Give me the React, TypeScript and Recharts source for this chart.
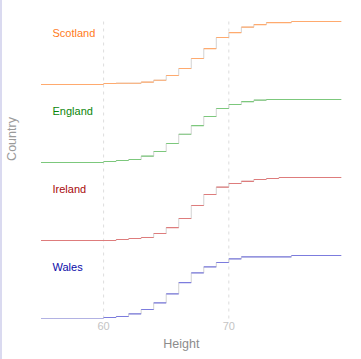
import React from 'react';
import { LineChart, Line, XAxis, YAxis, ReferenceLine } from 'recharts';

const HEIGHTS = [55, 56, 57, 58, 59, 60, 61, 62, 63, 64, 65, 66, 67, 68, 69, 70, 71, 72, 73, 74, 75, 76, 77, 78, 79];
const COUNTRIES = ['Scotland', 'England', 'Ireland', 'Wales'];
const X_TICKS = [60, 70];

// cumulative share of people at or below each height
const SCOTLAND = [0, 0, 0, 0, 0, 0.016, 0.02, 0.02, 0.037, 0.068, 0.143, 0.254, 0.413, 0.571, 0.746, 0.825, 0.91, 0.952, 0.984, 0.984, 1, 1, 1, 1, 1];
const ENGLAND = [0, 0, 0, 0, 0, 0.016, 0.032, 0.048, 0.1, 0.175, 0.302, 0.449, 0.587, 0.73, 0.857, 0.921, 0.966, 0.989, 1, 1, 1, 1, 1, 1, 1];
const IRELAND = [0, 0, 0, 0, 0, 0, 0.016, 0.032, 0.048, 0.111, 0.206, 0.349, 0.556, 0.73, 0.846, 0.905, 0.94, 0.968, 0.984, 1, 1, 1, 1, 1, 1];
const WALES = [0, 0, 0, 0, 0, 0.016, 0.032, 0.075, 0.143, 0.249, 0.392, 0.571, 0.725, 0.82, 0.889, 0.948, 0.979, 0.979, 0.979, 0.979, 1, 1, 1, 1, 1];

const SERIES = [SCOTLAND, ENGLAND, IRELAND, WALES];
const LINE_COLORS = ['#ffaa6e', '#7cc87c', '#de7c7c', '#7c7cde'];
const TEXT_COLORS = ['#ff7b1c', '#0a870a', '#a80a0a', '#0a0aa8'];

const SPACING = 1.238;
const LABEL_Y = [37.3, 115, 192.7, 271];

// ridges are stacked bottom-up: Wales at the bottom
function ridge(values: number[], idx: number) {
  const off = (COUNTRIES.length - 1 - idx) * SPACING;
  return HEIGHTS.map((h, i) => ({ x: h, y: off + values[i] }));
}

// horizontal pieces only, broken with nulls
function flats(values: number[], idx: number) {
  const off = (COUNTRIES.length - 1 - idx) * SPACING;
  const out: { x: number; y: number | null }[] = [];
  for (let i = 0; i < HEIGHTS.length - 1; i++) {
    out.push({ x: HEIGHTS[i], y: off + values[i] });
    out.push({ x: HEIGHTS[i + 1], y: off + values[i] });
    out.push({ x: HEIGHTS[i + 1], y: null });
  }
  return out;
}

export default function App() {
  return (
    <div style={{ position: 'absolute', left: 0, top: 0, width: 361, height: 359, background: '#fff', fontFamily: '"Liberation Sans", Arial, sans-serif' }}>
      <div style={{ position: 'absolute', left: 0, top: 0, width: 1.5, height: 359, background: '#dadaf0' }} />
      <LineChart width={361} height={359} margin={{ top: 19, right: 19.5, left: 41, bottom: 10.5 }}>
        <XAxis
          type="number"
          dataKey="x"
          domain={[55, 79]}
          ticks={X_TICKS}
          allowDataOverflow
          axisLine={false}
          tickLine={false}
          tickSize={0}
          tickMargin={3.5}
          height={30}
          tick={{ fontSize: 11, fill: '#c4c4c4' }}
        />
        <YAxis type="number" dataKey="y" domain={[0, 4.754]} hide allowDataOverflow />
        {X_TICKS.map((t) => (
          <ReferenceLine key={t} x={t} stroke="#dddddd" strokeDasharray="3 4" />
        ))}
        {SERIES.map((vals, i) => (
          <Line
            key={'v-' + COUNTRIES[i]}
            data={ridge(vals, i)}
            dataKey="y"
            type="stepAfter"
            stroke="#d2d2d2"
            strokeWidth={1}
            dot={false}
            activeDot={false}
            isAnimationActive={false}
          />
        ))}
        {SERIES.map((vals, i) => (
          <Line
            key={'h-' + COUNTRIES[i]}
            data={flats(vals, i)}
            dataKey="y"
            type="linear"
            stroke={LINE_COLORS[i]}
            strokeWidth={1.2}
            dot={false}
            activeDot={false}
            connectNulls={false}
            isAnimationActive={false}
          />
        ))}
      </LineChart>
      <svg width={361} height={359} style={{ position: 'absolute', left: 0, top: 0, pointerEvents: 'none' }}>
        {COUNTRIES.map((c, i) => (
          <text key={c} x={52.5} y={LABEL_Y[i]} fontSize={11} fill={TEXT_COLORS[i]}>{c}</text>
        ))}
        <text x={181.3} y={347.5} fontSize={12.5} fill="#8c8c8c" textAnchor="middle">Height</text>
        <text x={15.5} y={139} fontSize={12.5} fill="#9a9a9a" textAnchor="middle" transform="rotate(-90 15.5 139)">Country</text>
      </svg>
    </div>
  );
}
